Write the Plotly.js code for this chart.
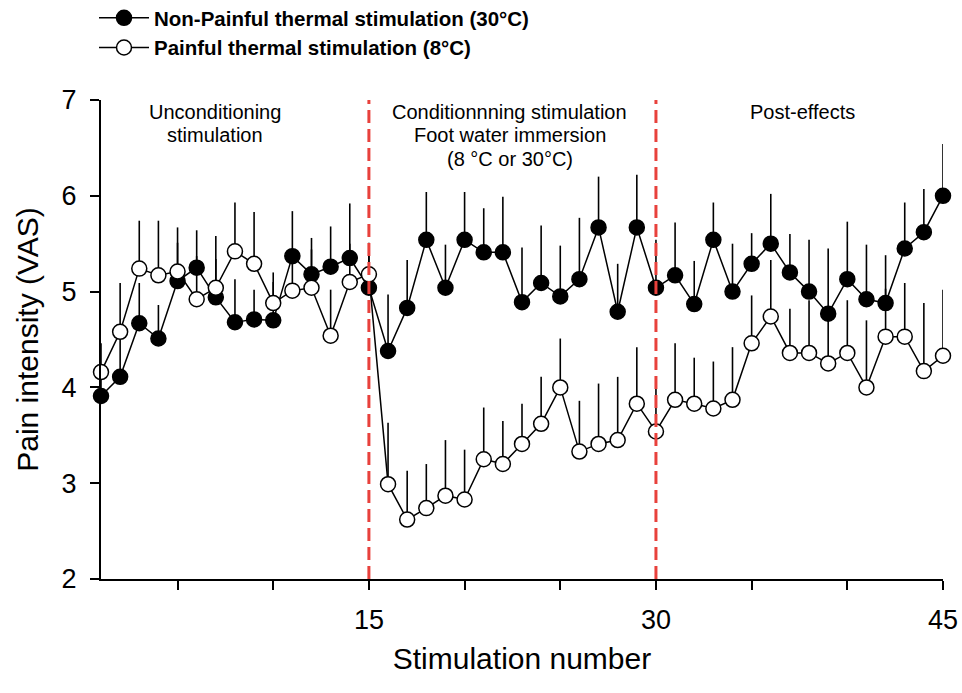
<!DOCTYPE html>
<html><head><meta charset="utf-8">
<script src="https://cdn.plot.ly/plotly-3.0.1.min.js"></script>
<style>body{margin:0;background:#fff}#chart{width:962px;height:693px}</style>
</head><body><div id="chart"></div>
<script>
const stim = [];
for (let i = 1; i <= 45; i++) stim.push(i);

const nonPainful = [3.91,4.11,4.67,4.51,5.11,5.25,4.94,4.68,4.71,4.70,5.37,5.18,5.26,5.35,5.04,
  4.38,4.83,5.54,5.04,5.54,5.41,5.41,4.89,5.09,4.95,5.13,5.67,4.79,5.67,5.04,
  5.17,4.87,5.54,5.00,5.29,5.50,5.20,5.00,4.77,5.13,4.92,4.88,5.45,5.62,6.00];
const nonPainfulErr = [0.30,0.50,0.42,0.35,0.40,0.39,0.40,0.45,0.31,0.40,0.47,0.38,0.42,0.57,0.40,
  0.59,0.50,0.50,0.45,0.50,0.46,0.58,0.57,0.60,0.53,0.64,0.53,0.50,0.55,0.50,
  0.55,0.45,0.39,0.50,0.32,0.52,0.40,0.54,0.68,0.60,0.57,0.50,0.48,0.45,0.54];

const painful = [4.16,4.58,5.24,5.17,5.21,4.92,5.04,5.42,5.29,4.88,5.01,5.04,4.54,5.10,5.18,
  2.99,2.62,2.74,2.87,2.83,3.25,3.20,3.41,3.62,4.00,3.33,3.41,3.45,3.83,3.54,
  3.87,3.83,3.78,3.87,4.46,4.74,4.36,4.36,4.25,4.36,4.00,4.53,4.53,4.17,4.33];
const painfulErr = [0.30,0.51,0.50,0.57,0.46,0.45,0.54,0.51,0.54,0.32,0.40,0.40,0.48,0.40,0.33,
  0.64,0.51,0.46,0.58,0.52,0.54,0.45,0.42,0.49,0.51,0.53,0.63,0.66,0.59,0.57,
  0.59,0.48,0.49,0.55,0.50,0.59,0.46,0.55,0.50,0.55,0.70,0.50,0.56,0.71,0.69];

const xTickVals = [5,10,15,20,25,30,35,40,45];
const xTickText = ['','','15','','','30','','','45'];
const yTickVals = [2,3,4,5,6,7];
const phaseBounds = [15,30];

const phaseLabels = [
  {x: 6.96, lines: ['Unconditioning', 'stimulation']},
  {x: 22.37, lines: ['Conditionnning stimulation', 'Foot water immersion', '(8 °C or 30°C)']},
  {x: 37.68, lines: ['Post-effects']}
];
const labelLineY = [6.875, 6.635, 6.385];

const zeros = stim.map(() => 0);
const FONT = 'Liberation Sans, Arial, sans-serif';

const traces = [
  {
    x: stim, y: nonPainful, type: 'scatter', mode: 'lines+markers',
    name: 'Non-Painful thermal stimulation (30°C)',
    line: {color: '#000', width: 1.5},
    marker: {color: '#000', size: 15, line: {color: '#000', width: 1.5}},
    error_y: {type: 'data', symmetric: false, array: nonPainfulErr, arrayminus: zeros, width: 0, thickness: 1.6, color: '#000'},
    cliponaxis: false
  },
  {
    x: stim, y: painful, type: 'scatter', mode: 'lines+markers',
    name: 'Painful thermal stimulation (8°C)',
    line: {color: '#000', width: 1.5},
    marker: {color: '#fff', size: 15, line: {color: '#000', width: 1.5}},
    error_y: {type: 'data', symmetric: false, array: painfulErr, arrayminus: zeros, width: 0, thickness: 1.6, color: '#000'},
    cliponaxis: false
  }
];

const shapes = phaseBounds.map(v => ({
  type: 'line', xref: 'x', yref: 'y', x0: v, x1: v, y0: 2, y1: 7.03,
  line: {color: '#e8413c', width: 3, dash: '13px,6px'}
}));

const annotations = [];
phaseLabels.forEach(p => {
  p.lines.forEach((t, i) => {
    annotations.push({x: p.x, y: labelLineY[i], xref: 'x', yref: 'y', text: t, showarrow: false,
      yanchor: 'middle', xanchor: 'center', font: {family: FONT, size: 20, color: '#000'}});
  });
});

const layout = {
  width: 962, height: 693,
  margin: {l: 101, r: 19, t: 100, b: 114, autoexpand: false},
  paper_bgcolor: '#fff', plot_bgcolor: '#fff',
  font: {family: FONT, color: '#000'},
  showlegend: true,
  legend: {x: (94 - 101) / 842, y: 1 + (100 + 2) / 479, xanchor: 'left', yanchor: 'top',
    itemwidth: 50, tracegroupgap: 0, bgcolor: 'rgba(0,0,0,0)',
    font: {family: FONT, size: 20.5, color: '#000', weight: 'bold'}},
  xaxis: {
    range: [1, 45], tickvals: xTickVals, ticktext: xTickText,
    ticks: 'outside', ticklen: 9, tickwidth: 2, tickcolor: '#000', ticklabelstandoff: 7,
    showline: true, linecolor: '#000', linewidth: 2, showgrid: false, zeroline: false,
    tickfont: {family: FONT, size: 27, color: '#000'},
    title: {text: 'Stimulation number', font: {family: FONT, size: 30, color: '#000'}, standoff: 14}
  },
  yaxis: {
    range: [2, 7], tickvals: yTickVals,
    ticks: 'outside', ticklen: 9, tickwidth: 2, tickcolor: '#000', ticklabelstandoff: 8,
    showline: true, linecolor: '#000', linewidth: 2, showgrid: false, zeroline: false,
    tickfont: {family: FONT, size: 27, color: '#000'},
    title: {text: 'Pain intensity (VAS)', font: {family: FONT, size: 30, color: '#000'}, standoff: 14}
  },
  shapes: shapes,
  annotations: annotations
};

Plotly.newPlot('chart', traces, layout, {displayModeBar: false, staticPlot: true});
</script>
</body></html>
